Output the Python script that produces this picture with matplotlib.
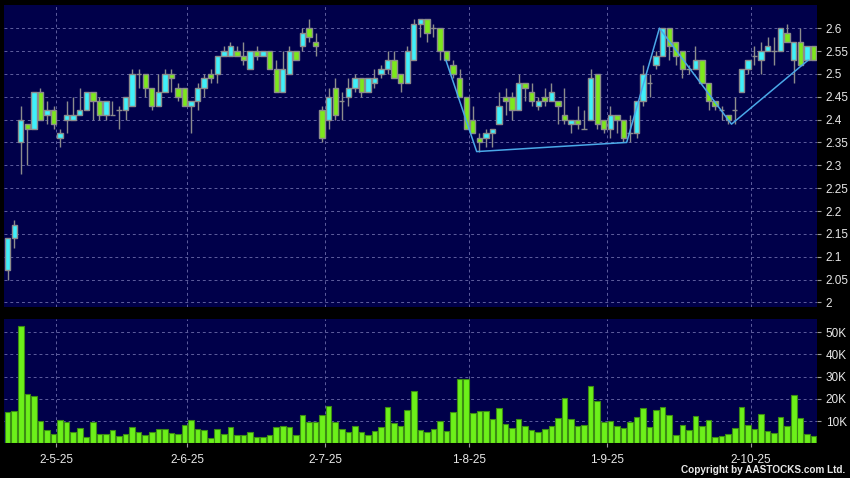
import matplotlib
matplotlib.use("Agg")
import matplotlib.pyplot as plt
import numpy as np

# ---- data ----
opens = [2.07, 2.14, 2.35, 2.39, 2.38, 2.46, 2.41, 2.42, 2.36, 2.40,
         2.40, 2.41, 2.42, 2.46, 2.44, 2.41, 2.41, 2.42, 2.42, 2.43,
         2.50, 2.50, 2.47, 2.43, 2.46, 2.50, 2.47, 2.47, 2.43, 2.44,
         2.47, 2.50, 2.50, 2.54, 2.54, 2.55, 2.54, 2.51, 2.55, 2.54,
         2.55, 2.51, 2.46, 2.50, 2.55, 2.56, 2.60, 2.57, 2.42, 2.40,
         2.47, 2.44, 2.45, 2.47, 2.49, 2.46, 2.48, 2.50, 2.51, 2.53,
         2.50, 2.48, 2.53, 2.61, 2.62, 2.60, 2.60, 2.55, 2.52, 2.49,
         2.45, 2.40, 2.36, 2.36, 2.37, 2.39, 2.45, 2.45, 2.42, 2.48,
         2.46, 2.43, 2.45, 2.44, 2.44, 2.41, 2.39, 2.40, 2.38, 2.40,
         2.50, 2.40, 2.38, 2.41, 2.40, 2.37, 2.37, 2.44, 2.48, 2.52,
         2.54, 2.60, 2.57, 2.55, 2.51, 2.51, 2.53, 2.48, 2.44, 2.42,
         2.41, 2.42, 2.46, 2.51, 2.54, 2.53, 2.55, 2.55, 2.55, 2.59,
         2.53, 2.57, 2.53, 2.56]
highs = [2.14, 2.18, 2.43, 2.39, 2.46, 2.47, 2.44, 2.43, 2.38, 2.44,
         2.45, 2.47, 2.46, 2.46, 2.45, 2.44, 2.44, 2.43, 2.45, 2.51,
         2.51, 2.50, 2.47, 2.50, 2.51, 2.51, 2.48, 2.47, 2.44, 2.48,
         2.50, 2.51, 2.54, 2.56, 2.57, 2.56, 2.57, 2.55, 2.56, 2.55,
         2.55, 2.53, 2.55, 2.56, 2.55, 2.60, 2.62, 2.59, 2.43, 2.47,
         2.49, 2.46, 2.49, 2.50, 2.49, 2.49, 2.51, 2.52, 2.55, 2.55,
         2.50, 2.56, 2.62, 2.62, 2.62, 2.61, 2.60, 2.55, 2.53, 2.51,
         2.45, 2.43, 2.37, 2.38, 2.38, 2.46, 2.47, 2.46, 2.50, 2.48,
         2.48, 2.45, 2.47, 2.48, 2.44, 2.47, 2.40, 2.43, 2.42, 2.51,
         2.50, 2.40, 2.43, 2.41, 2.40, 2.41, 2.44, 2.52, 2.50, 2.55,
         2.60, 2.60, 2.57, 2.55, 2.52, 2.56, 2.53, 2.48, 2.44, 2.43,
         2.41, 2.45, 2.51, 2.53, 2.56, 2.57, 2.58, 2.58, 2.60, 2.61,
         2.57, 2.60, 2.56, 2.56]
lows = [2.05, 2.12, 2.28, 2.30, 2.38, 2.40, 2.39, 2.38, 2.34, 2.37,
        2.40, 2.41, 2.42, 2.40, 2.40, 2.40, 2.41, 2.38, 2.40, 2.43,
        2.47, 2.45, 2.42, 2.43, 2.46, 2.46, 2.44, 2.43, 2.37, 2.42,
        2.45, 2.48, 2.48, 2.54, 2.54, 2.54, 2.52, 2.51, 2.53, 2.54,
        2.51, 2.46, 2.46, 2.50, 2.53, 2.55, 2.57, 2.54, 2.35, 2.38,
        2.40, 2.40, 2.43, 2.46, 2.45, 2.46, 2.47, 2.49, 2.50, 2.49,
        2.46, 2.48, 2.53, 2.58, 2.57, 2.58, 2.53, 2.53, 2.49, 2.45,
        2.38, 2.37, 2.33, 2.34, 2.34, 2.39, 2.41, 2.40, 2.42, 2.44,
        2.43, 2.42, 2.43, 2.44, 2.39, 2.39, 2.37, 2.38, 2.38, 2.40,
        2.38, 2.37, 2.36, 2.37, 2.35, 2.35, 2.36, 2.43, 2.45, 2.51,
        2.54, 2.53, 2.52, 2.49, 2.50, 2.51, 2.48, 2.42, 2.42, 2.40,
        2.39, 2.39, 2.46, 2.50, 2.52, 2.50, 2.55, 2.52, 2.55, 2.57,
        2.48, 2.52, 2.53, 2.53]
closes = [2.14, 2.17, 2.40, 2.38, 2.46, 2.40, 2.42, 2.39, 2.37, 2.41,
          2.41, 2.42, 2.46, 2.44, 2.41, 2.44, 2.41, 2.42, 2.45, 2.50,
          2.50, 2.47, 2.43, 2.46, 2.50, 2.49, 2.45, 2.43, 2.44, 2.47,
          2.49, 2.49, 2.54, 2.55, 2.56, 2.54, 2.53, 2.55, 2.54, 2.55,
          2.51, 2.46, 2.51, 2.55, 2.53, 2.59, 2.58, 2.56, 2.36, 2.45,
          2.41, 2.44, 2.47, 2.49, 2.46, 2.49, 2.49, 2.51, 2.53, 2.49,
          2.48, 2.55, 2.61, 2.62, 2.59, 2.60, 2.55, 2.53, 2.50, 2.45,
          2.38, 2.37, 2.35, 2.37, 2.38, 2.43, 2.44, 2.42, 2.48, 2.47,
          2.44, 2.44, 2.44, 2.46, 2.43, 2.40, 2.40, 2.39, 2.38, 2.49,
          2.39, 2.38, 2.41, 2.40, 2.36, 2.37, 2.44, 2.50, 2.48, 2.54,
          2.60, 2.56, 2.54, 2.51, 2.51, 2.53, 2.48, 2.44, 2.43, 2.42,
          2.40, 2.42, 2.51, 2.53, 2.54, 2.55, 2.56, 2.55, 2.60, 2.57,
          2.57, 2.52, 2.56, 2.53]
volumes_k = [14.2, 14.7, 53.0, 22.0, 21.3, 10.0, 5.8, 4.2, 10.3, 9.7,
             5.1, 7.0, 2.7, 9.7, 4.2, 4.2, 6.0, 3.4, 4.0, 7.3,
             4.9, 3.9, 4.9, 6.3, 6.3, 4.8, 4.2, 8.2, 10.3, 6.6,
             5.8, 2.2, 6.6, 4.0, 7.2, 3.6, 3.6, 5.2, 2.8, 3.0,
             3.6, 7.5, 7.8, 7.2, 3.6, 12.6, 9.7, 9.7, 12.9, 17.0,
             9.7, 6.6, 5.1, 7.8, 5.1, 3.7, 5.7, 7.3, 16.2, 9.0,
             7.8, 15.0, 23.5, 5.8, 5.1, 6.4, 9.9, 5.4, 14.2, 29.0,
             28.8, 13.6, 14.4, 14.4, 10.8, 15.9, 8.7, 7.0, 11.1, 7.6,
             5.8, 4.9, 6.6, 7.9, 11.5, 20.4, 10.9, 7.8, 8.2, 25.9,
             19.0, 9.7, 9.9, 7.9, 6.9, 9.6, 12.0, 15.9, 7.2, 15.0,
             16.5, 12.6, 3.9, 8.4, 6.1, 12.3, 7.8, 10.3, 2.8, 3.1,
             4.2, 6.9, 16.3, 8.1, 6.3, 13.2, 5.4, 4.8, 12.0, 7.6,
             21.6, 11.2, 4.0, 3.3]
date_labels = ["2-5-25", "2-6-25", "2-7-25", "1-8-25", "1-9-25", "2-10-25"]
date_bar_index = [7, 27, 48, 70, 91, 113]
trend_x = [66.9, 71.6, 94.5, 99.5, 110.5, 122.2]
trend_y = [2.53, 2.33, 2.35, 2.60, 2.39, 2.53]
price_ticks = [2.0, 2.05, 2.1, 2.15, 2.2, 2.25, 2.3, 2.35, 2.4, 2.45, 2.5, 2.55, 2.6]
vol_ticks_k = [10, 20, 30, 40, 50]

# ---- style ----
BG = "#000000"
PANEL = "#00004a"
GRID = "#5e5e9e"
UP = "#3ff0fa"
DOWN = "#7ce81c"
EDGE = "#8c8c8c"
VOL = "#6cf01a"
VOL_EDGE = "#3c8c14"
TXT = "#e8e8e8"
FONT = "Liberation Sans"

fig = plt.figure(figsize=(8.5, 4.78), dpi=100, facecolor=BG)
ax = fig.add_axes([4 / 850, 1 - 307 / 478, 813.3 / 850, 301.7 / 478])
axv = fig.add_axes([4 / 850, 1 - 443.3 / 478, 813.3 / 850, 124 / 478])

n = len(opens)
x = np.arange(n)
o = np.array(opens); h = np.array(highs); l = np.array(lows); c = np.array(closes)
up = c >= o
width = 0.82

for a in (ax, axv):
    a.set_facecolor(PANEL)
    for s in a.spines.values():
        s.set_visible(False)
    a.set_xlim(-0.56, 123.6)
    for gx in date_bar_index:
        a.axvline(gx + 0.45, color=GRID, lw=0.7, ls=(0, (3, 3)), zorder=0.5)

# price panel
ax.set_ylim(1.99, 2.65)
for py in price_ticks:
    ax.axhline(py, color=GRID, lw=0.7, ls=(0, (3, 3)), zorder=0.5)
ax.vlines(x, l, h, color=EDGE, lw=1.0, zorder=1)
colors = [UP if u else DOWN for u in up]
ax.bar(x, np.abs(c - o), bottom=np.minimum(o, c), width=width,
       color=colors, edgecolor=EDGE, linewidth=1.0, zorder=2)
ax.plot(trend_x, trend_y, color="#4aa8e8", lw=1.1, zorder=3)

ax.yaxis.tick_right()
ax.set_yticks(price_ticks)
ax.set_yticklabels([("%g" % t) for t in price_ticks], fontsize=8.5,
                   color=TXT, family=FONT)
ax.tick_params(axis="y", length=3, width=0.8, color="#9a9a9a", pad=3)
ax.set_xticks([])

# volume panel
axv.set_ylim(0, 55.8)
for vy in vol_ticks_k:
    axv.axhline(vy, color=GRID, lw=0.7, ls=(0, (3, 3)), zorder=0.5)
axv.bar(x, volumes_k, width=0.85, color=VOL, edgecolor=VOL_EDGE,
        linewidth=0.8, zorder=2)
axv.yaxis.tick_right()
axv.set_yticks(vol_ticks_k)
axv.set_yticklabels(["%dK" % t for t in vol_ticks_k], fontsize=8.5,
                    color=TXT, family=FONT)
axv.tick_params(axis="y", length=3, width=0.8, color="#9a9a9a", pad=3)
axv.set_xticks([i + 0.45 for i in date_bar_index])
axv.set_xticklabels(date_labels, fontsize=8.5, color=TXT, family=FONT)
axv.tick_params(axis="x", length=3, width=0.8, color="#9a9a9a", pad=5)

fig.text(845 / 850, 1 - 470 / 478, "Copyright by AASTOCKS.com Ltd.",
         ha="right", va="center", fontsize=7.2, color=TXT, family=FONT,
         fontweight="bold")

fig.savefig("out.png", dpi=100, facecolor=BG)
